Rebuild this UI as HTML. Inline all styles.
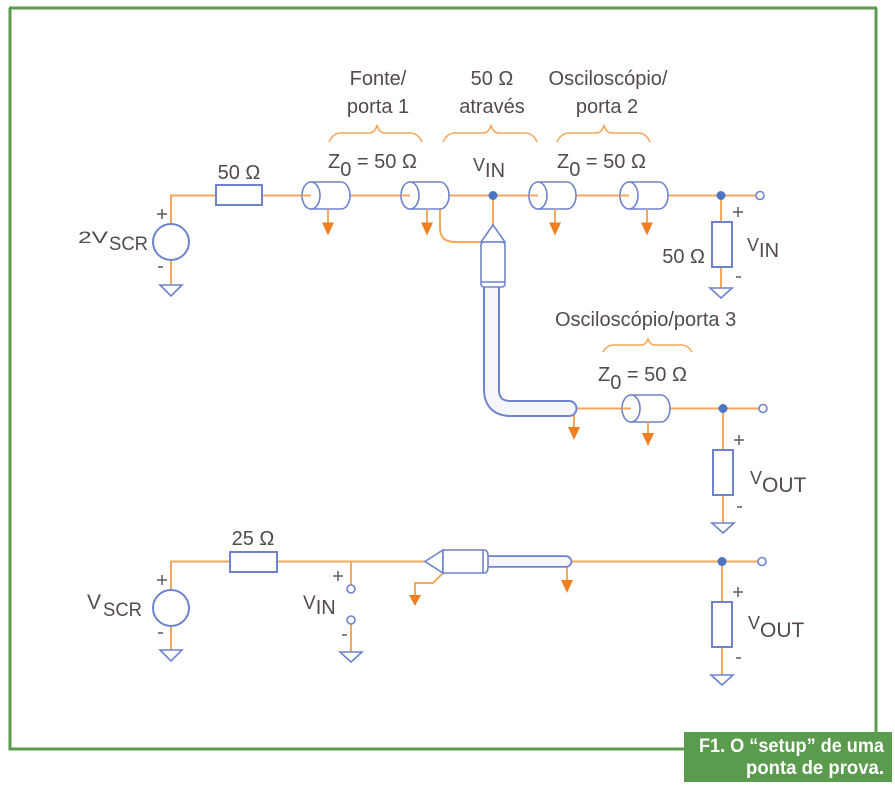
<!DOCTYPE html>
<html><head><meta charset="utf-8"><style>
html,body{margin:0;padding:0;background:#fff;}
svg{display:block;}
text{font-family:"Liberation Sans",Arial,sans-serif;fill:#534b4b;}
</style></head><body>
<svg width="895" height="789" viewBox="0 0 895 789" xmlns="http://www.w3.org/2000/svg">
<rect width="895" height="789" fill="#fff"/>
<!-- border -->
<g stroke="#5b9b4d" stroke-width="3" fill="none">
<line x1="10" y1="8" x2="10" y2="750"/>
<line x1="9" y1="8" x2="877" y2="8"/>
<line x1="876" y1="8" x2="876" y2="733"/>
<line x1="9" y1="749" x2="685" y2="749"/>
</g>
<rect x="684" y="732" width="208" height="50" fill="#5b9b4d"/>
<text x="699" y="752" textLength="185" lengthAdjust="spacingAndGlyphs" style="font-weight:bold;font-size:19px;fill:#fff">F1. O “setup” de uma</text>
<text x="746" y="774" textLength="138" lengthAdjust="spacingAndGlyphs" style="font-weight:bold;font-size:19px;fill:#fff">ponta de prova.</text>

<!-- ===== WIRES ===== -->
<g stroke="#f4a85c" stroke-width="2" fill="none">
<polyline points="171,224 171,195.5 216,195.5"/>
<line x1="262" y1="195.5" x2="302" y2="195.5"/>
<line x1="350" y1="195.5" x2="401" y2="195.5"/>
<line x1="448" y1="195.5" x2="529" y2="195.5"/>
<line x1="575" y1="195.5" x2="620" y2="195.5"/>
<line x1="667" y1="195.5" x2="756" y2="195.5"/>
<line x1="721" y1="195.5" x2="721" y2="222"/>
<line x1="721" y1="267" x2="721" y2="288"/>
<line x1="171" y1="260" x2="171" y2="285"/>
<line x1="493" y1="195.5" x2="493" y2="226"/>
<path d="M440,209 V228 Q440,242 455,242 H483"/>
<line x1="575" y1="408.5" x2="622" y2="408.5"/>
<line x1="669" y1="408.5" x2="759" y2="408.5"/>
<line x1="723" y1="408.5" x2="723" y2="450"/>
<line x1="723" y1="495" x2="723" y2="523"/>
<polyline points="171,590 171,561.5 230,561.5"/>
<line x1="277" y1="561.5" x2="426" y2="561.5"/>
<line x1="572" y1="561.5" x2="758" y2="561.5"/>
<line x1="351" y1="561.5" x2="351" y2="585"/>
<line x1="351" y1="624" x2="351" y2="652"/>
<line x1="171" y1="626" x2="171" y2="650"/>
<line x1="722" y1="561.5" x2="722" y2="602"/>
<line x1="722" y1="647" x2="722" y2="675"/>
<polyline points="443,573 433,583 415,583 415,596"/>
<line x1="567" y1="566" x2="567" y2="581"/>
</g>

<!-- ===== COAXES ===== -->
<g stroke="#6f83cc" stroke-width="1.6" fill="#fff">
<path d="M311,182 H341 A9,13.5 0 0 1 341,209 H311 Z"/><ellipse cx="311" cy="195.5" rx="9" ry="13.5"/>
<path d="M410,182 H440 A9,13.5 0 0 1 440,209 H410 Z"/><ellipse cx="410" cy="195.5" rx="9" ry="13.5"/>
<path d="M538,182 H567 A9,13.5 0 0 1 567,209 H538 Z"/><ellipse cx="538" cy="195.5" rx="9" ry="13.5"/>
<path d="M629,182 H659 A9,13.5 0 0 1 659,209 H629 Z"/><ellipse cx="629" cy="195.5" rx="9" ry="13.5"/>
<path d="M631,395 H661 A9,13.5 0 0 1 661,422 H631 Z"/><ellipse cx="631" cy="408.5" rx="9" ry="13.5"/>
</g>
<g stroke="#f4a85c" stroke-width="2">
<line x1="302" y1="195.5" x2="311" y2="195.5"/>
<line x1="401" y1="195.5" x2="410" y2="195.5"/>
<line x1="529" y1="195.5" x2="538" y2="195.5"/>
<line x1="620" y1="195.5" x2="629" y2="195.5"/>
<line x1="622" y1="408.5" x2="631" y2="408.5"/>
<line x1="328" y1="209" x2="328" y2="223"/>
<line x1="427" y1="209" x2="427" y2="223"/>
<line x1="555" y1="209" x2="555" y2="223"/>
<line x1="647" y1="209" x2="647" y2="223"/>
<line x1="648" y1="422" x2="648" y2="434"/>
<line x1="574" y1="414" x2="574" y2="428"/>
</g>
<g fill="#ef7f22">
<polygon points="322,222.5 334,222.5 328,235.5"/>
<polygon points="421,222.5 433,222.5 427,235.5"/>
<polygon points="549,222.5 561,222.5 555,235.5"/>
<polygon points="641,222.5 653,222.5 647,235.5"/>
<polygon points="642,433 654,433 648,446"/>
<polygon points="568,427 580,427 574,440"/>
<polygon points="561,580 573,580 567,593"/>
<polygon points="409,595 421,595 415,606"/>
</g>

<!-- ===== PROBE (vertical) ===== -->
<path d="M491.5,285 V389 Q491.5,408.5 511,408.5 H569" stroke="#6f83cc" stroke-width="17" fill="none" stroke-linecap="round"/>
<path d="M491.5,285 V389 Q491.5,408.5 511,408.5 H569" stroke="#f4f6fc" stroke-width="13" fill="none" stroke-linecap="round"/>
<g stroke="#6f83cc" stroke-width="1.6" fill="#fff">
<polygon points="493,225 481,242 505,242"/>
<rect x="481" y="242" width="24" height="45" rx="3"/>
<line x1="481" y1="282" x2="505" y2="282"/>
</g>

<!-- ===== PROBE (horizontal) ===== -->
<line x1="487" y1="561.5" x2="566" y2="561.5" stroke="#6f83cc" stroke-width="12.5" stroke-linecap="round"/>
<line x1="487" y1="561.5" x2="566" y2="561.5" stroke="#f4f6fc" stroke-width="9" stroke-linecap="round"/>
<g stroke="#6f83cc" stroke-width="1.6" fill="#fff">
<polygon points="425,561.5 443,550 443,573"/>
<path d="M443,550 H484 Q488,550 488,556 V567 Q488,573 484,573 H443 Z"/>
<line x1="483" y1="550" x2="483" y2="573"/>
</g>

<!-- ===== RESISTORS / SOURCES / GROUNDS ===== -->
<g stroke="#6f83cc" stroke-width="2" fill="#fff">
<rect x="216" y="185" width="46" height="20"/>
<rect x="712" y="222" width="20" height="45"/>
<rect x="713" y="450" width="20" height="45"/>
<rect x="230" y="552" width="47" height="20"/>
<rect x="712" y="602" width="20" height="45"/>
<circle cx="171" cy="242" r="18"/>
<circle cx="171" cy="608" r="18"/>
</g>
<g stroke="#6f83cc" stroke-width="1.6" fill="#fff">
<polygon points="160,285 182,285 171,296"/>
<polygon points="710,288 732,288 721,298"/>
<polygon points="712,523 734,523 723,533"/>
<polygon points="160,650 182,650 171,661"/>
<polygon points="340,652 362,652 351,662"/>
<polygon points="711,675 733,675 722,685"/>
<circle cx="760" cy="195.5" r="4"/>
<circle cx="763" cy="408.5" r="4"/>
<circle cx="762" cy="561.5" r="4"/>
<circle cx="351" cy="589" r="4"/>
<circle cx="351" cy="620" r="4"/>
</g>
<g fill="#4e73c3">
<circle cx="493" cy="195.5" r="4.5"/>
<circle cx="721" cy="195.5" r="4.5"/>
<circle cx="723" cy="408.5" r="4.5"/>
<circle cx="722" cy="561.5" r="4.5"/>
</g>

<!-- braces -->
<g stroke="#f4a85c" stroke-width="1.6" fill="none">
<path d="M329,142 Q333,133 341,133 H369 Q375,133 377,125 Q379,133 385,133 H410 Q418,133 422,142"/>
<path d="M443,142 Q447,133 455,133 H483 Q489,133 491,125 Q493,133 499,133 H525 Q533,133 537,142"/>
<path d="M557,142 Q561,133 569,133 H596 Q602,133 604,125 Q606,133 612,133 H638 Q646,133 650,142"/>
<path d="M603,352 Q607,345 614,345 H641 Q646,345 648,339 Q650,345 655,345 H681 Q688,345 692,352"/>
</g>

<!-- plus / minus -->
<g stroke="#6a6262" stroke-width="1.6">
<line x1="157" y1="214" x2="167" y2="214"/><line x1="162" y1="209" x2="162" y2="219"/>
<line x1="158" y1="267" x2="163" y2="267"/>
<line x1="733" y1="212" x2="743" y2="212"/><line x1="738" y1="207" x2="738" y2="217"/>
<line x1="736" y1="277" x2="741" y2="277"/>
<line x1="734" y1="440" x2="744" y2="440"/><line x1="739" y1="435" x2="739" y2="445"/>
<line x1="737" y1="507" x2="742" y2="507"/>
<line x1="157" y1="580" x2="167" y2="580"/><line x1="162" y1="575" x2="162" y2="585"/>
<line x1="158" y1="633" x2="163" y2="633"/>
<line x1="333" y1="576" x2="343" y2="576"/><line x1="338" y1="571" x2="338" y2="581"/>
<line x1="342" y1="635" x2="347" y2="635"/>
<line x1="733" y1="592" x2="743" y2="592"/><line x1="738" y1="587" x2="738" y2="597"/>
<line x1="736" y1="658" x2="741" y2="658"/>
</g>

<!-- labels -->
<g style="font-size:20px">
<text x="378" y="85" text-anchor="middle">Fonte/</text>
<text x="378" y="113" text-anchor="middle">porta 1</text>
<text x="492" y="85" text-anchor="middle">50 Ω</text>
<text x="492" y="113" text-anchor="middle">através</text>
<text x="608" y="85" text-anchor="middle">Osciloscópio/</text>
<text x="607" y="113" text-anchor="middle">porta 2</text>
<text x="239" y="179" text-anchor="middle">50 Ω</text>
<text x="328" y="168">Z<tspan dy="8">0</tspan><tspan dy="-8"> = 50 Ω</tspan></text>
<text x="557" y="168">Z<tspan dy="8">0</tspan><tspan dy="-8"> = 50 Ω</tspan></text>
<text x="555" y="326">Osciloscópio/porta 3</text>
<text x="598" y="381">Z<tspan dy="8">0</tspan><tspan dy="-8"> = 50 Ω</tspan></text>
<text x="705" y="263" text-anchor="end">50 Ω</text>
<text x="253" y="545" text-anchor="middle">25 Ω</text>
</g>
<text x="473" y="171" style="font-size:18px">V<tspan dy="6" style="font-size:20px">IN</tspan></text>
<text x="747" y="251" style="font-size:18px">V<tspan dy="6" style="font-size:20px">IN</tspan></text>
<text x="750" y="484" style="font-size:18px">V<tspan dy="8" style="font-size:21px">OUT</tspan></text>
<text x="748" y="629" style="font-size:18px">V<tspan dy="8" style="font-size:21px">OUT</tspan></text>
<text x="78" y="243" style="font-size:17px" textLength="30" lengthAdjust="spacingAndGlyphs">2V</text>
<text x="109" y="250" style="font-size:19px" textLength="39" lengthAdjust="spacingAndGlyphs">SCR</text>
<text x="87" y="609" style="font-size:21px">V</text>
<text x="103" y="616" style="font-size:19px" textLength="39" lengthAdjust="spacingAndGlyphs">SCR</text>
<text x="303" y="609" style="font-size:19px">V<tspan dy="5" style="font-size:20px">IN</tspan></text>
</svg>
</body></html>
